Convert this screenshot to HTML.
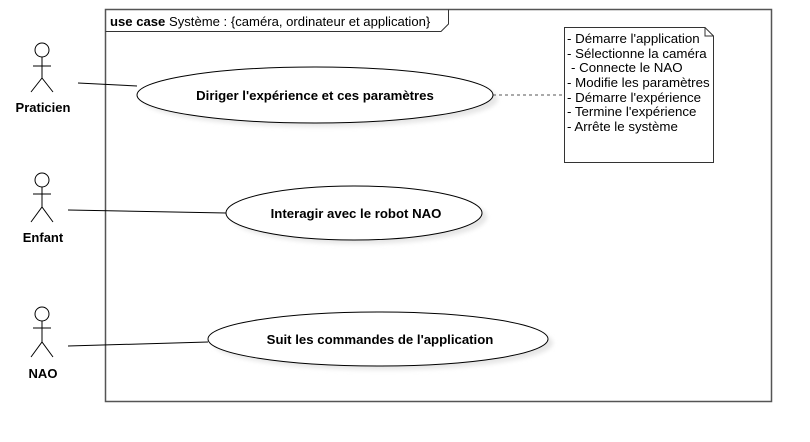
<!DOCTYPE html>
<html><head><meta charset="utf-8"><style>
html,body{margin:0;padding:0;background:#fff;}
svg{display:block;font-family:"Liberation Sans",Arial,sans-serif;}
</style></head><body>
<svg width="810" height="442" viewBox="0 0 810 442" xmlns="http://www.w3.org/2000/svg">
<defs>
<filter id="sh" x="-10%" y="-20%" width="130%" height="160%"><feGaussianBlur stdDeviation="2"/></filter>
</defs>
<rect x="105.5" y="9.5" width="666" height="392" fill="none" stroke="#555" stroke-width="1.5"/>
<path d="M105.5 31.5 H441 L448.5 24 V9.5" fill="none" stroke="#333" stroke-width="1"/>
<text x="110" y="26" font-size="13.1" fill="#000"><tspan font-weight="bold">use case</tspan> Système : {caméra, ordinateur et application}</text>

<ellipse cx="320" cy="99" rx="178" ry="28" fill="#e6e6e6" filter="url(#sh)"/>
<ellipse cx="359" cy="217" rx="128" ry="27" fill="#e6e6e6" filter="url(#sh)"/>
<ellipse cx="383" cy="343" rx="170" ry="27" fill="#e6e6e6" filter="url(#sh)"/>

<line x1="78" y1="83" x2="137" y2="86" stroke="#000"/>
<line x1="68" y1="210" x2="226" y2="213" stroke="#000"/>
<line x1="68" y1="346" x2="208" y2="342" stroke="#000"/>
<line x1="493" y1="95" x2="564" y2="95" stroke="#555" stroke-dasharray="3,3"/>

<ellipse cx="315" cy="95" rx="178" ry="28" fill="#fff" stroke="#000"/>
<text x="315" y="100" font-size="13.2" font-weight="bold" text-anchor="middle">Diriger l'expérience et ces paramètres</text>
<ellipse cx="354" cy="213" rx="128" ry="27" fill="#fff" stroke="#000"/>
<text x="356" y="218" font-size="13.2" font-weight="bold" text-anchor="middle">Interagir avec le robot NAO</text>
<ellipse cx="378" cy="339" rx="170" ry="27" fill="#fff" stroke="#000"/>
<text x="380" y="344" font-size="13.2" font-weight="bold" text-anchor="middle">Suit les commandes de l'application</text>

<path d="M564.5 27.5 H705 L713.5 36 V162.5 H564.5 Z M705 27.5 V36 H713.5" fill="#fff" stroke="#333"/>
<g font-size="13.3" fill="#000">
<text x="567" y="43">- Démarre l'application</text>
<text x="567" y="58">- Sélectionne la caméra</text>
<text x="571" y="72">- Connecte le NAO</text>
<text x="567" y="87">- Modifie les paramètres</text>
<text x="567" y="102">- Démarre l'expérience</text>
<text x="567" y="116">- Termine l'expérience</text>
<text x="567" y="131">- Arrête le système</text>
</g>

<g fill="none" stroke="#000" stroke-width="1">
<circle cx="42" cy="50" r="7" fill="#fff"/>
<line x1="42" y1="57" x2="42" y2="78"/><line x1="33" y1="66" x2="51" y2="66"/>
<polyline points="31,92 42,78 53,92"/>
<circle cx="42" cy="180" r="7" fill="#fff"/>
<line x1="42" y1="187" x2="42" y2="207"/><line x1="33" y1="194" x2="51" y2="194"/>
<polyline points="31,222 42,207 53,222"/>
<circle cx="42" cy="314" r="7" fill="#fff"/>
<line x1="42" y1="321" x2="42" y2="342"/><line x1="33" y1="328" x2="51" y2="328"/>
<polyline points="31,357 42,342 53,357"/>
</g>
<g font-size="13" font-weight="bold" text-anchor="middle">
<text x="43" y="112">Praticien</text>
<text x="43" y="242">Enfant</text>
<text x="43" y="378">NAO</text>
</g>
</svg>
</body></html>
